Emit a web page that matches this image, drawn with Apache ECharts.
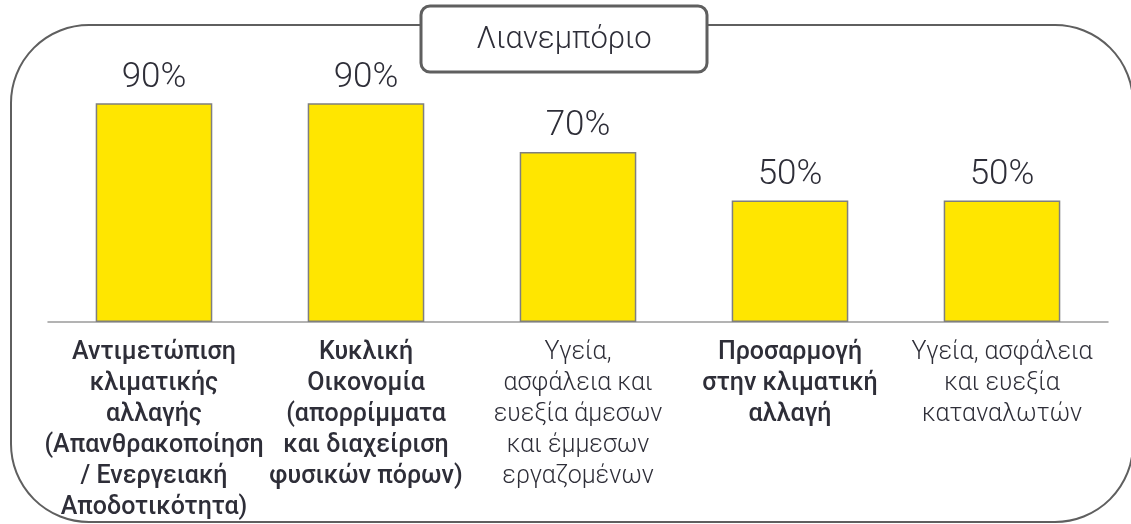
<!DOCTYPE html>
<html>
<head>
<meta charset="utf-8">
<style>
  html, body { margin: 0; padding: 0; background: #ffffff; }
  #chart { width: 1131px; height: 524px; }
</style>
<script src="https://cdn.jsdelivr.net/npm/echarts@6/dist/echarts.min.js"></script>
</head>
<body>
<div id="chart"></div>
<script>
// Sector heading
const sectorTitle = 'Λιανεμπόριο';

// Topic names, wrapped as shown under each bar
const categories = [
  'Αντιμετώπιση\nκλιματικής\nαλλαγής\n(Απανθρακοποίηση\n/ Ενεργειακή\nΑποδοτικότητα)',
  'Κυκλική\nΟικονομία\n(απορρίμματα\nκαι διαχείριση\nφυσικών πόρων)',
  'Υγεία,\nασφάλεια και\nευεξία άμεσων\nκαι έμμεσων\nεργαζομένων',
  'Προσαρμογή\nστην κλιματική\nαλλαγή',
  'Υγεία, ασφάλεια\nκαι ευεξία\nκαταναλωτών'
];

// Topics highlighted in bold
const boldTopics = [true, true, false, true, false];

// Share of companies (%)
const shares = [90, 90, 70, 50, 50];

const textColor = '#2e2e38';
const fontFamily = 'Roboto, "Liberation Sans", Arial, sans-serif';

const chart = echarts.init(document.getElementById('chart'), null, { renderer: 'canvas' });

chart.setOption({
  animation: false,
  backgroundColor: '#ffffff',
  graphic: [
    {
      type: 'rect',
      z: 0,
      silent: true,
      shape: { x: 11, y: 25, width: 1122, height: 497, r: 78 },
      style: { fill: 'none', stroke: '#5f5f5f', lineWidth: 2 }
    },
    {
      type: 'rect',
      z: 1,
      silent: true,
      shape: { x: 421, y: 6, width: 286, height: 66, r: 9 },
      style: { fill: '#ffffff', stroke: '#5f5f5f', lineWidth: 3 }
    },
    {
      type: 'text',
      z: 2,
      silent: true,
      x: 564,
      y: 40,
      style: {
        text: sectorTitle,
        fill: textColor,
        font: '300 31px ' + fontFamily,
        align: 'center',
        verticalAlign: 'middle'
      }
    }
  ],
  grid: { left: 48, right: 23, top: 79, bottom: 202 },
  xAxis: {
    type: 'category',
    data: categories.map((name, i) => ({
      value: name,
      textStyle: { fontWeight: boldTopics[i] ? 500 : 300 }
    })),
    axisLine: { show: true, lineStyle: { color: '#9a9a9a', width: 1.5 } },
    axisTick: { show: false },
    axisLabel: {
      interval: 0,
      margin: 15,
      color: textColor,
      fontFamily: fontFamily,
      fontSize: 25,
      lineHeight: 31,
      align: 'center',
      verticalAlign: 'top'
    }
  },
  yAxis: {
    type: 'value',
    min: 0,
    max: 100,
    show: false,
    splitLine: { show: false }
  },
  series: [
    {
      type: 'bar',
      data: shares,
      barWidth: '55%',
      itemStyle: { color: '#ffe600', borderColor: '#7f7f7f', borderWidth: 1.5 },
      label: {
        show: true,
        position: 'top',
        distance: 8,
        formatter: '{c}%',
        color: textColor,
        fontFamily: fontFamily,
        fontWeight: 300,
        fontSize: 35
      }
    }
  ]
});
</script>
</body>
</html>
